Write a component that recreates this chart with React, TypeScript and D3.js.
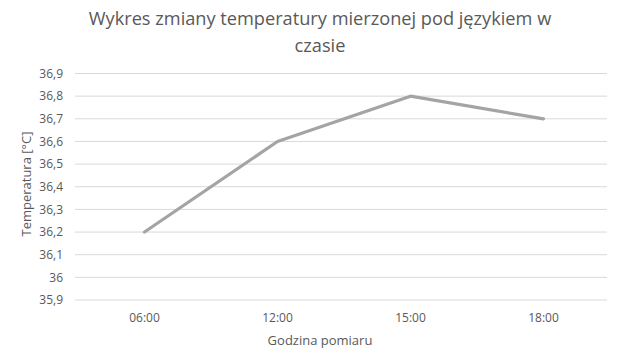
import React from "react";
import * as d3 from "d3";

const categories = ["06:00", "12:00", "15:00", "18:00"];
const values = [36.2, 36.6, 36.8, 36.7];
const yTicks = [35.9, 36, 36.1, 36.2, 36.3, 36.4, 36.5, 36.6, 36.7, 36.8, 36.9];
const titleLines = ["Wykres zmiany temperatury mierzonej pod językiem w", "czasie"];
const xTitle = "Godzina pomiaru";
const yTitle = "Temperatura [°C]";

const W = 639, H = 358;
const font = "'Open Sans', sans-serif";

export default function App() {
  const x = d3.scaleBand<string>().domain(categories).range([78, 610]);
  const y = d3.scaleLinear().domain([35.9, 36.9]).range([300, 73.5]);
  const fmt = (v: number) => d3.format(".1f")(v).replace(/\.0$/, "").replace(".", ",");
  const line = d3
    .line<number>()
    .x((_, i) => (x(categories[i]) as number) + x.bandwidth() / 2)
    .y((d) => y(d));
  return (
    <svg width={W} height={H} style={{ position: "absolute", left: 0, top: 0, background: "#fff" }} fontFamily={font}>
      {titleLines.map((t, i) => (
        <text key={i} x={320} y={25 + i * 27} textAnchor="middle" fontSize={18.2} fill="#595959">
          {t}
        </text>
      ))}
      {yTicks.map((t) => (
        <g key={t}>
          <line x1={75} x2={607} y1={y(t)} y2={y(t)} stroke="#d9d9d9" strokeWidth={1} />
          <text x={63} y={y(t)} dy="0.35em" textAnchor="end" fontSize={12} fill="#595959">
            {fmt(t)}
          </text>
        </g>
      ))}
      {categories.map((c) => (
        <text key={c} x={(x(c) as number) + x.bandwidth() / 2} y={322} textAnchor="middle" fontSize={12} fill="#595959">
          {c}
        </text>
      ))}
      <text x={320} y={345} textAnchor="middle" fontSize={13} fill="#595959">
        {xTitle}
      </text>
      <text transform={`translate(31,184) rotate(-90)`} textAnchor="middle" fontSize={13} fill="#595959">
        {yTitle}
      </text>
      <path d={line(values) || ""} fill="none" stroke="#a6a3a3" strokeWidth={3.2} strokeLinejoin="round" strokeLinecap="round" />
    </svg>
  );
}
